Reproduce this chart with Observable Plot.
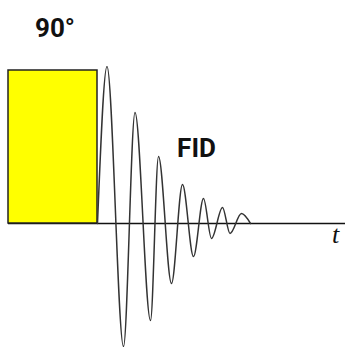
<!DOCTYPE html>
<html>
<head>
<meta charset="utf-8">
<script src="https://cdn.jsdelivr.net/npm/d3@7"></script>
<script src="https://cdn.jsdelivr.net/npm/@observablehq/plot@0.6"></script>
<style>
  html, body { margin: 0; padding: 0; background: #fff; }
  #chart svg { display: block; }
</style>
</head>
<body>
<div id="chart"></div>
<script>
// Pulse (90° RF pulse) in time units, amplitude 1 = pulse height
const pulseStart = 8;
const pulseEnd = 97;
const pulseHeight = 1;
const pulseLabel = "90°";

// FID extrema (time, amplitude)
const fidTime = [97, 106.5, 123, 134.5, 150, 158, 171, 182, 193, 203, 211, 222, 229.5, 241, 250];
const fidAmp  = [0, 1.026, -0.804, 0.725, -0.634, 0.438, -0.392, 0.255, -0.216, 0.163, -0.098, 0.105, -0.065, 0.065, 0];
const fidLabel = "FID";
const fidLabelTime = 196;
const fidLabelAmp = 0.49;

// Time axis
const axisEnd = 345;
const axisLabel = "t";

const wave = fidTime.map((t, i) => ({t, a: fidAmp[i]}));
const pulse = [{x1: pulseStart, x2: pulseEnd, y1: 0, y2: pulseHeight}];

const chart = Plot.plot({
  width: 345,
  height: 347,
  margin: 0,
  x: {domain: [0, 345], axis: null},
  y: {domain: [-0.8105, 1.4575], axis: null},
  marks: [
    Plot.ruleY([0], {x1: pulseStart, x2: axisEnd, stroke: "#111", strokeWidth: 1.5}),
    Plot.rect(pulse, {x1: "x1", x2: "x2", y1: "y1", y2: "y2", fill: "#ffff00", stroke: "#222", strokeWidth: 1.5}),
    Plot.line(wave, {x: "t", y: "a", curve: "monotone-x", stroke: "#333", strokeWidth: 1.5}),
    Plot.text(pulse, {x: d => (d.x1 + d.x2) / 2 + 2, y: "y2", text: () => pulseLabel, dy: -42,
      fontFamily: "Roboto", fontWeight: "bold", fontSize: 26, fill: "#111"}),
    Plot.text([fidLabel], {x: () => fidLabelTime, y: () => fidLabelAmp, text: d => d,
      fontFamily: "Roboto", fontWeight: "bold", fontSize: 26, fill: "#111"}),
    Plot.text([axisLabel], {x: () => axisEnd, y: () => 0, text: d => d, dx: -10, dy: 11,
      fontFamily: "Liberation Serif", fontStyle: "italic", fontSize: 26, fill: "#111"})
  ]
});
document.getElementById("chart").appendChild(chart);
</script>
</body>
</html>
